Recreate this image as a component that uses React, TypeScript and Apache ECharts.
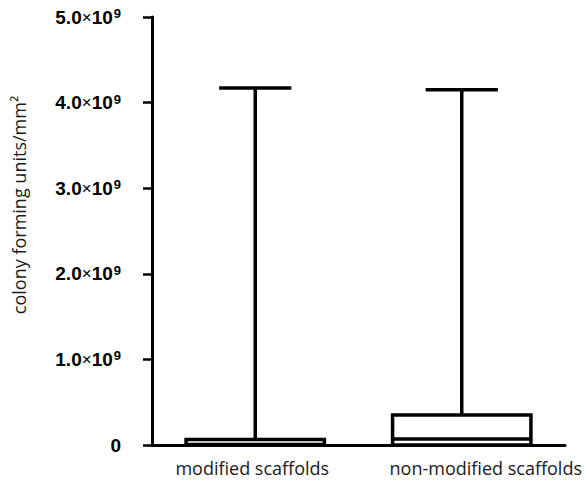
import React, { useEffect, useRef } from "react";
import * as echarts from "echarts";

const categories = ["modified scaffolds", "non-modified scaffolds"];
// [low, q1, median, q3, high]
const boxStats = [
  [0, 0, 0.005e9, 0.065e9, 4.17e9],
  [0, 0, 0.07e9, 0.35e9, 4.15e9],
];
const yTicks = [0, 1e9, 2e9, 3e9, 4e9, 5e9];
const yAxisTitle = "colony forming units/mm²";

export default function App() {
  const ref = useRef<HTMLDivElement>(null);
  useEffect(() => {
    if (!ref.current) return;
    const chart = echarts.init(ref.current, null, { renderer: "svg" });
    const data = boxStats.map((s, i) => [i, ...s]);
    chart.setOption({
      animation: false,
      backgroundColor: "#ffffff",
      grid: { left: 152, right: 22, top: 17, bottom: 39 },
      xAxis: {
        type: "category",
        data: categories.map((c, i) =>
          i === 1 ? { value: c, textStyle: { padding: [0, 0, 0, 48] } } : { value: c, textStyle: { padding: [0, 6, 0, 0] } }
        ),
        axisLine: { lineStyle: { color: "#000", width: 3 } },
        axisTick: { alignWithLabel: true, length: 8, lineStyle: { color: "#000", width: 2.5 } },
        axisLabel: {
          interval: 0,
          fontFamily: "Open Sans",
          fontSize: 18,
          color: "#1a1a1a",
          margin: 14,
        },
      },
      yAxis: {
        type: "value",
        min: yTicks[0],
        max: yTicks[yTicks.length - 1],
        interval: yTicks[1] - yTicks[0],
        splitLine: { show: false },
        axisLine: { show: true, lineStyle: { color: "#000", width: 3 } },
        axisTick: { show: true, length: 9, lineStyle: { color: "#000", width: 2.5 } },
        axisLabel: {
          fontFamily: "Liberation Sans, Arial",
          fontWeight: "bold",
          fontSize: 19,
          color: "#000",
          margin: 31,
          formatter: (v: number) =>
            v === 0 ? "{b|0}" : "{b|" + (v / 1e9).toFixed(1) + "}{x|×}{b|10}{s|9}",
          rich: {
            b: { fontFamily: "Liberation Sans, Arial", fontWeight: "bold", fontSize: 19, color: "#000" },
            x: { fontFamily: "Liberation Sans, Arial", fontWeight: "normal", fontSize: 17, color: "#000" },
            s: {
              fontFamily: "Liberation Sans, Arial",
              fontWeight: "bold",
              fontSize: 13,
              color: "#000",
              padding: [0, 0, 7, 1],
            },
          },
        },
      },
      graphic: [
        {
          type: "text",
          x: 19,
          y: 205,
          rotation: Math.PI / 2,
          style: {
            text: yAxisTitle,
            fontFamily: "Open Sans",
            fontSize: 18,
            fill: "#1a1a1a",
            align: "center",
            verticalAlign: "middle",
          },
        },
      ],
      series: [
        {
          type: "custom",
          data,
          z: 5,
          renderItem: (params: any, api: any) => {
            const idx = api.value(0);
            const low = api.value(1);
            const q1 = api.value(2);
            const med = api.value(3);
            const q3 = api.value(4);
            const high = api.value(5);
            const band = api.size([1, 0])[0];
            const boxW = band * 0.67;
            const capW = band * 0.35;
            const pLow = api.coord([idx, low]);
            const pQ1 = api.coord([idx, q1]);
            const pMed = api.coord([idx, med]);
            const pQ3 = api.coord([idx, q3]);
            const pHigh = api.coord([idx, high]);
            const cx = pQ3[0];
            const stroke = { stroke: "#000", lineWidth: 3.5, fill: null };
            return {
              type: "group",
              children: [
                {
                  type: "line",
                  shape: { x1: cx, y1: pHigh[1], x2: cx, y2: pQ3[1] },
                  style: stroke,
                },
                {
                  type: "line",
                  shape: { x1: cx - capW / 2, y1: pHigh[1], x2: cx + capW / 2, y2: pHigh[1] },
                  style: stroke,
                },
                {
                  type: "line",
                  shape: { x1: cx, y1: pQ1[1], x2: cx, y2: pLow[1] },
                  style: stroke,
                },
                {
                  type: "rect",
                  shape: { x: cx - boxW / 2, y: pQ3[1], width: boxW, height: pQ1[1] - pQ3[1] },
                  style: { stroke: "#000", lineWidth: 3.5, fill: "#fff" },
                },
                {
                  type: "line",
                  shape: { x1: cx - boxW / 2, y1: pMed[1], x2: cx + boxW / 2, y2: pMed[1] },
                  style: stroke,
                },
              ],
            };
          },
        },
      ],
    });
    return () => chart.dispose();
  }, []);
  return (
    <div
      ref={ref}
      style={{ position: "fixed", left: 0, top: 0, width: 587, height: 484 }}
    />
  );
}
